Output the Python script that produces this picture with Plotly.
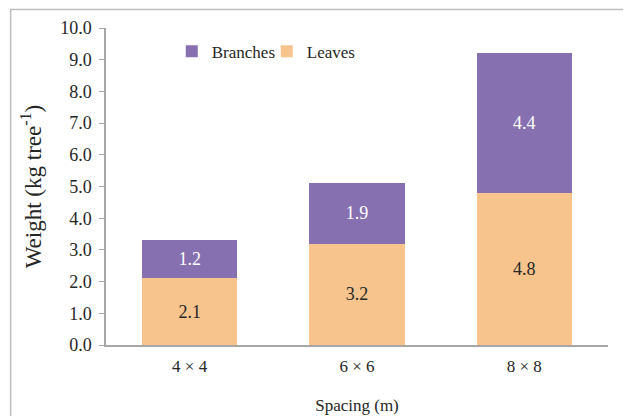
import plotly.graph_objects as go

categories = ["4 × 4", "6 × 6", "8 × 8"]
leaves = [2.1, 3.2, 4.8]
branches = [1.2, 1.9, 4.4]
y_ticks = [0, 1, 2, 3, 4, 5, 6, 7, 8, 9, 10]

FONT = "Liberation Serif"

fig = go.Figure()
fig.add_trace(go.Bar(
    x=categories, y=leaves, name="Leaves",
    marker=dict(color="#F7C48E", line=dict(width=0)),
    text=[f"{v:.1f}" for v in leaves], textposition="inside",
    insidetextanchor="middle", textangle=0,
    textfont=dict(family=FONT, size=18, color="#262626"),
))
fig.add_trace(go.Bar(
    x=categories, y=branches, name="Branches",
    marker=dict(color="#8670B0", line=dict(width=0)),
    text=[f"{v:.1f}" for v in branches], textposition="inside",
    insidetextanchor="middle", textangle=0,
    textfont=dict(family=FONT, size=18, color="#FFFFFF"),
))

fig.update_layout(
    barmode="stack",
    bargap=0.43,
    width=631, height=416,
    margin=dict(l=98, r=31, t=20, b=79),
    paper_bgcolor="white", plot_bgcolor="white",
    font=dict(family=FONT, size=17, color="#262626"),
    uniformtext=dict(minsize=10, mode="show"),
    showlegend=True,
    legend=dict(
        orientation="h", x=0.131, y=0.925, xanchor="left", yanchor="middle",
        traceorder="reversed", font=dict(family=FONT, size=17, color="#262626"),
        bgcolor="rgba(0,0,0,0)", itemwidth=30,
        entrywidth=50, entrywidthmode="pixels",
    ),
    xaxis=dict(
        automargin=False,
        showline=True, linecolor="#A6A6A6", linewidth=1.5,
        ticks="", showgrid=False,
        ticklabelstandoff=5,
        tickfont=dict(family=FONT, size=17),
        title=dict(text="Spacing (m)", font=dict(family=FONT, size=17), standoff=24),
    ),
    yaxis=dict(
        automargin=False,
        range=[0, 10], tickvals=y_ticks, tickformat=".1f",
        showline=True, linecolor="#A6A6A6", linewidth=1.5,
        ticks="outside", ticklen=5, tickcolor="#A6A6A6",
        ticklabelstandoff=4,
        showgrid=False, zeroline=False,
        tickfont=dict(family=FONT, size=18),
        title=dict(text="Weight (kg tree<sup>-1</sup>)", font=dict(family=FONT, size=23), standoff=12),
    ),
    shapes=[dict(
        type="rect", xref="paper", yref="paper",
        x0=-0.19, x1=1.3, y0=-0.4, y1=1.058,
        line=dict(color="#BFBFBF", width=1.5), fillcolor="rgba(0,0,0,0)", layer="below",
    )],
)

fig.write_html("out.html")
